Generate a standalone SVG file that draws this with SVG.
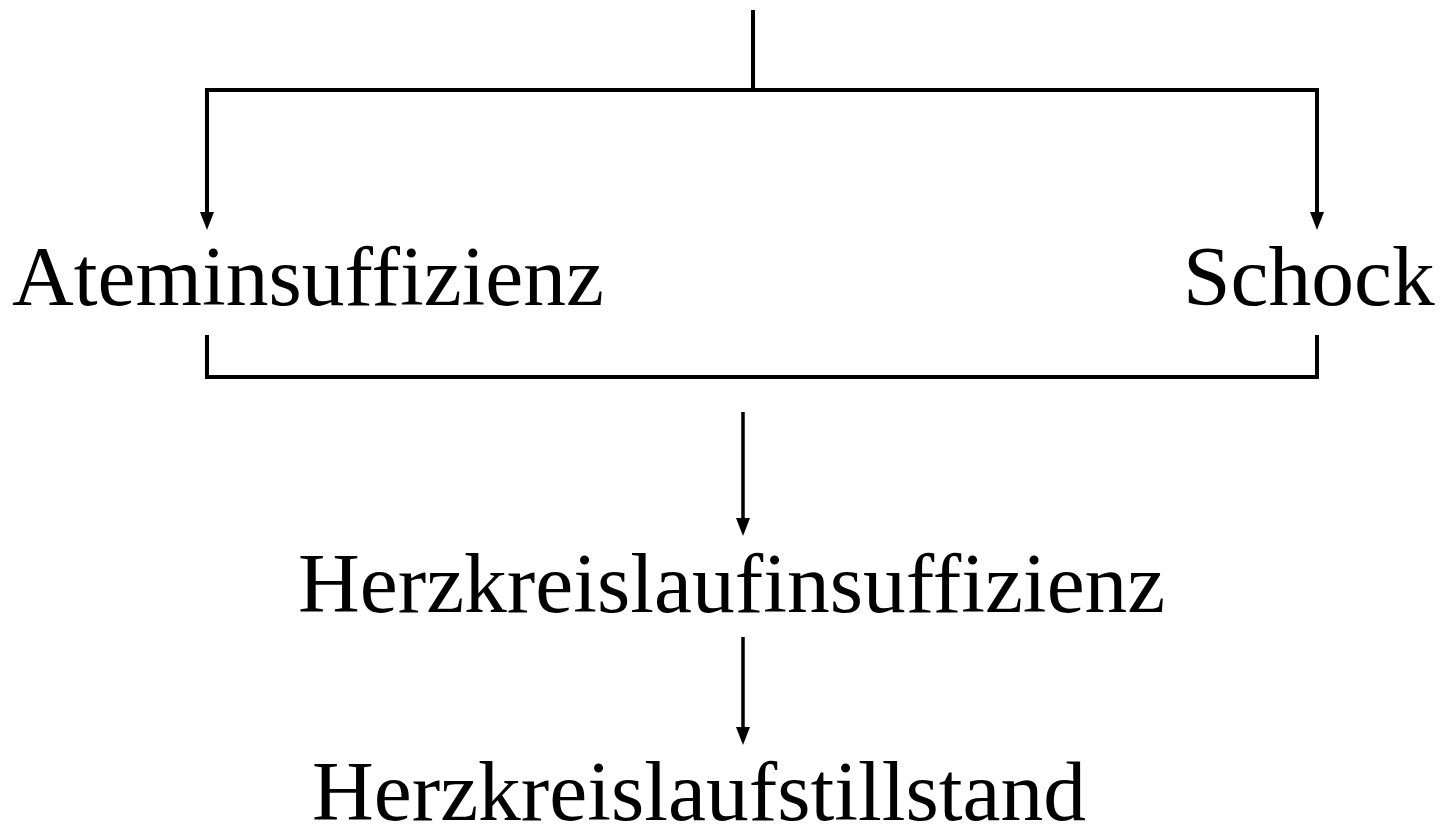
<svg xmlns="http://www.w3.org/2000/svg" width="1440" height="832" viewBox="0 0 1440 832">
  <style>
    .label { font-family: "Liberation Serif", "Times New Roman", serif; font-size: 85.5px; fill: #000; }
    .wire { fill: none; stroke: #000; stroke-width: 4; stroke-linecap: butt; stroke-linejoin: miter; }
    .thin { stroke-width: 3.5; }
    .head { fill: #000; }
  </style>
  <rect width="1440" height="832" fill="#fff"/>

  <g id="connectors">
    <!-- stem and split to both causes -->
    <path class="wire" d="M753,10 V90"/>
    <path class="wire" d="M207,214 V90 H1317 V214"/>
    <!-- join bracket under the causes -->
    <path class="wire" d="M207,335 V377 H1317 V335"/>
    <!-- downward flow -->
    <path class="wire thin" d="M743,412 V522"/>
    <path class="wire thin" d="M743,637 V731"/>
    <!-- arrowheads -->
    <polygon class="head" points="200,212 214,212 207,230"/>
    <polygon class="head" points="1310,212 1324,212 1317,230"/>
    <polygon class="head" points="736,518 750,518 743,536"/>
    <polygon class="head" points="736,727 750,727 743,745"/>
  </g>

  <g id="node-ateminsuffizienz">
    <text class="label" x="12" y="305">Ateminsuffizienz</text>
  </g>
  <g id="node-schock">
    <text class="label" x="1183" y="305">Schock</text>
  </g>
  <g id="node-herzkreislaufinsuffizienz">
    <text class="label" x="298" y="612">Herzkreislaufinsuffizienz</text>
  </g>
  <g id="node-herzkreislaufstillstand">
    <text class="label" x="312" y="820">Herzkreislaufstillstand</text>
  </g>
</svg>
